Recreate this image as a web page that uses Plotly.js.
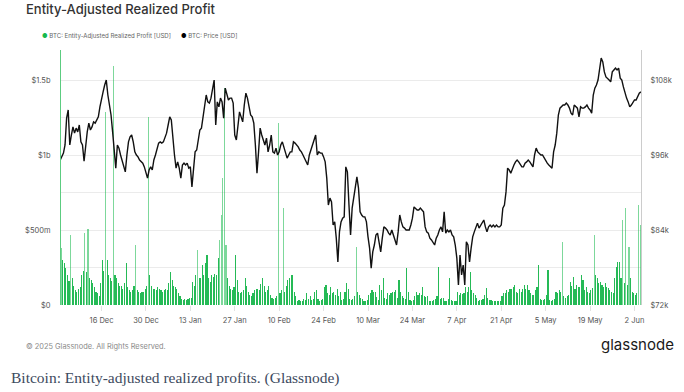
<!DOCTYPE html>
<html>
<head>
<meta charset="utf-8">
<script src="https://cdn.plot.ly/plotly-3.0.1.min.js"></script>
<style>
html,body{margin:0;padding:0;background:#fff;}
#chart{width:684px;height:392px;}
</style>
</head>
<body>
<div id="chart"></div>
<script>
// ---- Data ----
// 12-hour buckets starting 2024-12-03 00:00 UTC
const seriesStart = "2024-12-03";
const stepHours = 12;

// Entity-Adjusted Realized Profit, millions USD (one value per 12h bucket)
const profitM = [
380,300,280,250,200,160,467,180,130,100,
90,110,120,200,230,480,220,510,180,170,
150,120,90,80,60,150,300,230,1290,300,
200,180,160,1595,200,180,150,130,130,110,
150,280,120,100,90,100,130,400,100,90,
80,90,90,110,130,1256,200,130,110,110,
100,120,110,100,90,100,110,100,150,222,
170,130,120,110,
80,60,40,35,40,35,40,50,45,155,
130,200,367,180,180,267,200,278,333,180,
155,200,190,210,200,311,433,600,847,1447,
400,180,130,110,100,120,333,170,90,80,
90,100,178,130,90,70,60,80,100,110,
110,100,140,178,130,90,100,130,70,50,
40,50,60,1211,80,100,644,90,130,170,
180,200,
200,90,60,30,35,30,30,40,35,80,
40,60,35,40,90,100,40,30,35,40,
120,133,80,70,120,80,90,70,110,60,
90,35,40,90,144,110,40,35,40,60,
389,90,70,50,40,30,30,35,70,80,
100,90,90,55,35,133,100,178,50,40,
80,70,80,90,90,100,50,167,90,60,
50,40,244,
90,35,30,35,60,89,70,80,70,122,
60,55,60,30,25,30,35,40,60,255,
40,45,45,30,25,40,178,35,30,25,
30,90,65,80,75,80,120,90,120,222,
100,80,70,45,30,35,35,40,70,111,
45,35,35,30,25,25,25,25,30,60,
80,80,100,90,110,105,122,133,90,80,
110,90,
110,133,110,133,100,80,70,70,100,120,
267,40,35,35,40,70,233,35,30,35,
40,89,80,100,89,422,60,50,60,70,
155,130,189,110,133,122,120,200,167,100,
122,90,80,100,111,467,200,178,144,155,
133,122,144,122,111,100,89,80,178,255,
289,289,178,567,144,644,133,389,178,90,
80,70,80,667,533
];

// BTC price, thousands USD (one value every 12h)
const priceK = [
95.2,95.7, 96.3,97.6, 101.9,103.2, 97.6,99.2, 100.5,99.5,
100.3,99.7, 100.8,98.1, 97.6,95.0, 97.6,99.7, 101.1,100.0,
100.5,101.3, 101.1,101.6, 102.1,103.7, 105.1,106.1, 107.2,108.0,
105.6,104.0, 102.4,99.7, 96.5,93.9, 97.6,97.1, 96.0,95.2,
94.4,93.3, 96.0,98.1, 98.9,99.2, 98.1,96.5, 96.0,95.7,
95.2,94.9, 94.7,94.1, 93.3,92.3, 93.6,94.1, 93.6,95.2,
96.0,96.8, 97.9,98.1, 97.9,98.1, 98.7,99.5, 100.8,102.1,
101.6,98.1, 96.0,93.9, 94.9,93.9, 92.3,94.4, 94.7,94.4,
94.7,93.9, 94.1,90.9, 93.9,96.5, 96.8,98.7, 100.0,100.3,
102.1,103.5, 105.6,104.5, 104.3,105.1, 106.7,108.0, 100.8,104.5,
103.7,105.1, 104.5,101.9, 106.7,105.6, 104.8,105.1, 105.1,104.3,
99.2,98.4, 100.8,102.9, 102.1,101.3, 104.0,105.9, 105.1,103.5,
102.4,102.1, 101.1,97.6, 93.1,96.5, 100.3,99.2, 98.4,97.6,
98.7,96.5, 97.6,99.2, 96.5,96.3, 97.1,96.0, 96.5,97.6,
98.1,97.3, 96.5,95.5, 96.0,96.5, 96.5,98.1, 97.9,97.6,
97.3,96.8, 96.5,96.0, 95.5,94.9, 94.4,96.0, 96.8,97.6,
98.1,99.2, 96.0,96.5, 96.3,96.3, 95.7,94.9, 92.3,88.0,
89.1,88.5, 84.8,85.3, 82.7,78.9, 83.7,85.3, 85.9,86.1,
94.1,93.3, 88.0,83.2, 87.5,89.1, 91.2,92.5, 90.7,86.9,
86.4,86.1, 86.1,85.3, 82.9,81.1, 77.9,80.5, 81.6,83.2,
83.5,81.6, 80.5,82.7, 84.5,84.3, 84.0,83.5, 83.2,84.0,
83.2,82.4, 81.6,83.7, 86.4,85.3, 84.5,84.3, 84.0,84.0,
84.0,84.8, 85.9,87.7, 87.5,87.2, 87.2,87.5, 87.2,86.9,
84.5,83.7, 83.5,82.7, 82.4,81.9, 81.6,82.7, 83.2,84.0,
84.5,83.7, 86.9,83.5, 84.0,83.7, 84.0,83.2, 82.9,81.6,
79.5,75.2, 80.0,76.8, 78.4,75.2, 82.1,81.6, 78.9,81.1,
82.9,83.7, 84.5,85.1, 84.3,84.8, 85.3,85.6, 84.5,83.7,
84.5,84.8, 84.5,84.8, 84.5,84.8, 84.5,84.5, 84.8,87.5,
88.0,90.1, 93.9,93.6, 93.1,93.9, 94.4,94.9, 95.2,94.9,
94.4,94.1, 94.1,94.7, 94.9,95.2, 94.9,94.4, 94.1,96.0,
97.1,96.5, 96.3,96.0, 96.0,95.5, 95.2,94.7, 94.4,94.1,
93.9,96.5, 97.6,99.5, 102.4,103.5, 103.7,104.0, 104.0,104.3,
104.0,103.5, 102.7,102.4, 104.0,103.7, 103.5,102.1, 103.7,103.5,
103.5,103.7, 104.0,103.5, 103.2,102.7, 105.6,106.7, 107.2,108.0,
109.6,111.5, 110.9,109.3, 108.5,108.3, 108.0,107.7, 109.3,109.6,
109.9,109.6, 109.9,108.3, 108.0,106.9, 105.9,105.1, 104.5,103.7,
104.0,104.5, 104.8,104.8, 105.3,105.9, 106.1
];

// X-axis ticks
const xTickDates = ["2024-12-16","2024-12-30","2025-01-13","2025-01-27","2025-02-10","2025-02-24","2025-03-10","2025-03-24","2025-04-07","2025-04-21","2025-05-05","2025-05-19","2025-06-02"];
const xTickLabels = ["16 Dec","30 Dec","13 Jan","27 Jan","10 Feb","24 Feb","10 Mar","24 Mar","7 Apr","21 Apr","5 May","19 May","2 Jun"];
// Left axis (profit)
const yTickVals = [0, 250e6, 500e6, 750e6, 1000e6, 1250e6, 1500e6];
const yTickLabels = ["$0", "", "$500m", "", "$1b", "", "$1.5b"];
// Right axis (price)
const y2TickVals = [72000, 84000, 96000, 108000];
const y2TickLabels = ["$72k", "$84k", "$96k", "$108k"];

// ---- Build traces ----
function fmt(ms){
  const d = new Date(ms);
  const p = n => String(n).padStart(2,"0");
  return d.getUTCFullYear()+"-"+p(d.getUTCMonth()+1)+"-"+p(d.getUTCDate())+" "+p(d.getUTCHours())+":"+p(d.getUTCMinutes());
}
const t0 = Date.parse(seriesStart+"T00:00:00Z");
const H = 3600e3;
const barX = profitM.map((_, i) => fmt(t0 + (i*stepHours + stepHours/2)*H));
const barY = profitM.map(v => v*1e6);
const barColors = profitM.map(v => v >= 350 ? "rgba(38,190,88,0.6)" : "rgba(18,180,72,0.92)");
const priceX = priceK.map((_, i) => fmt(t0 + i*stepHours*H));
const priceY = priceK.map(v => v*1000);

const FONT = "Inter, 'Open Sans', sans-serif";

const traces = [
  {
    type: "bar", x: barX, y: barY, yaxis: "y",
    width: stepHours*H*0.7,
    marker: {color: barColors, line: {width: 0}},
    name: "BTC: Entity-Adjusted Realized Profit [USD]",
    hoverinfo: "skip"
  },
  {
    type: "scatter", mode: "lines", x: priceX, y: priceY, yaxis: "y2",
    line: {color: "#111111", width: 1.4},
    name: "BTC: Price [USD]",
    hoverinfo: "skip"
  }
];

const px = x => (x - 61)/580;
const py = y => (305 - y)/255;

const layout = {
  width: 684, height: 392,
  margin: {l: 61, r: 43, t: 50, b: 87, pad: 0},
  paper_bgcolor: "#ffffff", plot_bgcolor: "#ffffff",
  showlegend: false,
  bargap: 0,
  font: {family: FONT, color: "#666"},
  xaxis: {
    type: "date",
    range: ["2024-12-03 05:30", "2025-06-04 01:10"],
    tickvals: xTickDates, ticktext: xTickLabels,
    tickfont: {size: 7.5, color: "#555"},
    ticks: "outside", ticklen: 5, tickcolor: "#e2e2e2",
    ticklabelstandoff: 3,
    showgrid: false, showline: false, zeroline: false
  },
  yaxis: {
    range: [0, 1.7e9],
    tickvals: yTickVals, ticktext: yTickLabels,
    tickfont: {size: 7.5, color: "#555"},
    ticks: "", ticklabelstandoff: 8,
    showgrid: true, gridcolor: "#ebebeb", gridwidth: 1,
    showline: true, linecolor: "#5ccc80", linewidth: 1,
    zeroline: false
  },
  yaxis2: {
    overlaying: "y", side: "right",
    range: [72000, 112800],
    tickvals: y2TickVals, ticktext: y2TickLabels,
    tickfont: {size: 7.5, color: "#555"},
    ticks: "", ticklabelstandoff: 7,
    showgrid: false,
    showline: true, linecolor: "#cccccc", linewidth: 1,
    zeroline: false
  },
  annotations: [
    {text: "Entity-Adjusted Realized Profit", xref: "paper", yref: "paper",
     x: px(24), y: py(9), xanchor: "left", yanchor: "middle", showarrow: false,
     font: {family: FONT, size: 13, color: "#333", weight: 500}},
    {text: "<span style='color:#17b84c'>●</span> BTC: Entity-Adjusted Realized Profit [USD]",
     xref: "paper", yref: "paper", x: px(40), y: py(36), xanchor: "left", yanchor: "middle",
     showarrow: false, font: {family: FONT, size: 6.1, color: "#666"}},
    {text: "<span style='color:#000'>●</span> BTC: Price [USD]",
     xref: "paper", yref: "paper", x: px(179), y: py(36), xanchor: "left", yanchor: "middle",
     showarrow: false, font: {family: FONT, size: 6.1, color: "#666"}},
    {text: "© 2025 Glassnode. All Rights Reserved.", xref: "paper", yref: "paper",
     x: px(24), y: py(346), xanchor: "left", yanchor: "middle", showarrow: false,
     font: {family: FONT, size: 7.4, color: "#8a8a8a"}},
    {text: "glassnode", xref: "paper", yref: "paper",
     x: px(676), y: py(345), xanchor: "right", yanchor: "middle", showarrow: false,
     font: {family: FONT, size: 15, color: "#1a1a1a"}},
    {text: "Bitcoin: Entity-adjusted realized profits. (Glassnode)", xref: "paper", yref: "paper",
     x: px(9), y: py(378), xanchor: "left", yanchor: "middle", showarrow: false,
     font: {family: "'Liberation Serif', 'DejaVu Serif', serif", size: 15.5, color: "#3d4a5e"}}
  ]
};

Plotly.newPlot("chart", traces, layout, {staticPlot: true, displayModeBar: false});
</script>
</body>
</html>
